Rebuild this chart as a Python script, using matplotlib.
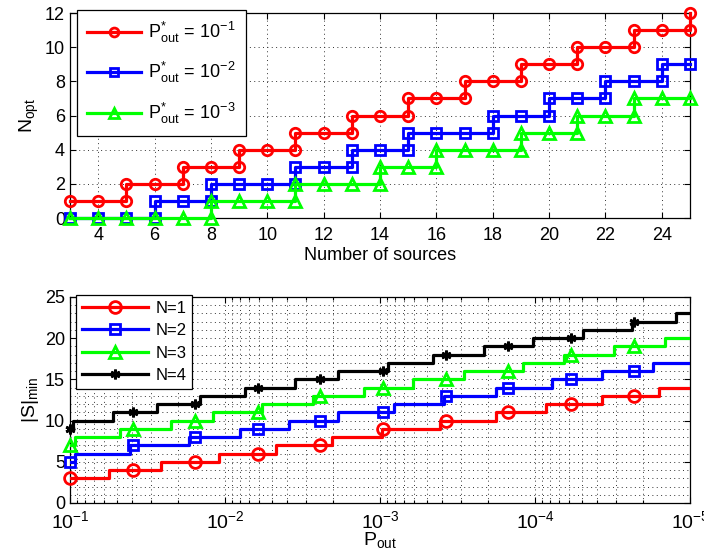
import numpy as np
import matplotlib
matplotlib.use("Agg")
import matplotlib.pyplot as plt
from matplotlib.lines import Line2D
from matplotlib.ticker import MultipleLocator, LogLocator, NullFormatter

plt.rcParams['font.family'] = ['Liberation Sans', 'DejaVu Sans']
plt.rcParams['mathtext.fontset'] = 'custom'
plt.rcParams['mathtext.rm'] = 'Liberation Sans'
plt.rcParams['mathtext.it'] = 'Liberation Sans:italic'
plt.rcParams['mathtext.bf'] = 'Liberation Sans:bold'

# ── top panel data: optimal N vs number of sources ──────────────────────────
n_sources = list(range(3, 26))
nopt_p1 = [1, 1, 2, 2, 3, 3, 4, 4, 5, 5, 6, 6, 7, 7, 8, 8, 9, 9, 10, 10, 11, 11, 12]
nopt_p2 = [0, 0, 0, 1, 1, 2, 2, 2, 3, 3, 4, 4, 5, 5, 5, 6, 6, 7, 7, 8, 8, 9, 9]
nopt_p3 = [0, 0, 0, 0, 0, 1, 1, 1, 2, 2, 2, 3, 3, 4, 4, 4, 5, 5, 6, 6, 7, 7, 7]
top_labels = [r'$\mathrm{P}^{*}_{\mathrm{out}}\,=\,10^{-1}$',
              r'$\mathrm{P}^{*}_{\mathrm{out}}\,=\,10^{-2}$',
              r'$\mathrm{P}^{*}_{\mathrm{out}}\,=\,10^{-3}$']

# ── bottom panel data: |S|min vs P_out (log10 of step positions) ────────────
s1_steps = [-1.25, -1.59, -1.96, -2.33, -2.69, -3.01, -3.39, -3.75, -4.07, -4.43, -4.80]
s1_levels = [3, 4, 5, 6, 7, 8, 9, 10, 11, 12, 13, 14]
s2_steps = [-1.03, -1.39, -1.77, -2.10, -2.41, -2.73, -3.09, -3.415, -3.75, -4.11, -4.43, -4.76]
s2_levels = [5, 6, 7, 8, 9, 10, 11, 12, 13, 14, 15, 16, 17]
s3_steps = [-1.03, -1.32, -1.65, -1.92, -2.24, -2.57, -2.90, -3.21, -3.54, -3.92, -4.19, -4.51, -4.84]
s3_levels = [7, 8, 9, 10, 11, 12, 13, 14, 15, 16, 17, 18, 19, 20]
s4_steps = [-1.02, -1.28, -1.56, -1.84, -2.13, -2.45, -2.73, -3.05, -3.34, -3.67, -3.99, -4.31, -4.625, -4.91]
s4_levels = [9, 10, 11, 12, 13, 14, 15, 16, 17, 18, 19, 20, 21, 22, 23]

mk_exp = [-1.0, -1.404, -1.808, -2.212, -2.616, -3.02, -3.424, -3.828, -4.232, -4.636]
s1_mk = [3, 4, 5, 6, 7, 9, 10, 11, 12, 13]
s2_mk = [5, 7, 8, 9, 10, 11, 13, 14, 15, 16]
s3_mk = [7, 9, 10, 11, 13, 14, 15, 16, 18, 19]
s4_mk = [9, 11, 12, 14, 15, 16, 18, 19, 20, 22]
bot_labels = ['N=1', 'N=2', 'N=3', 'N=4']

P_MAX, P_MIN = 1e-1, 1e-5

RED, BLUE, GREEN, BLACK = '#FF0000', '#0000FF', '#00FF00', '#000000'
FS = 13
LW = 2.3
GRID = dict(linestyle=(0, (1, 3.5)), color='#333333', linewidth=0.7)


def stair_vertices(x, y):
    xs, ys = [x[0]], [y[0]]
    for i in range(1, len(x)):
        if y[i] != y[i - 1]:
            xs.append(x[i])
            ys.append(y[i - 1])
        xs.append(x[i])
        ys.append(y[i])
    return xs, ys


def style_axes(ax):
    ax.tick_params(which='both', direction='in', top=True, right=True,
                   labelsize=FS, width=0.8)
    ax.tick_params(which='major', length=4)
    ax.tick_params(which='minor', length=2)
    for s in ax.spines.values():
        s.set_linewidth(0.9)


fig = plt.figure(figsize=(7.04, 5.59), dpi=100)
ax1 = fig.add_axes([0.0994, 0.610, 0.8807, 0.3667])
ax2 = fig.add_axes([0.0994, 0.1002, 0.8807, 0.3685])

# ── top panel ───────────────────────────────────────────────────────────────
top_series = [(nopt_p1, RED, 'o', 7.5), (nopt_p2, BLUE, 's', 6.5), (nopt_p3, GREEN, '^', 8.5)]
for (vals, col, mk, ms), lab in zip(top_series, top_labels):
    xs, ys = stair_vertices(n_sources, vals)
    ax1.plot(xs, ys, color=col, lw=LW, marker=mk, ms=ms, mfc='none',
             mec=col, mew=2.0, label=lab, clip_on=False, zorder=3)

ax1.set_xlim(3, 25)
ax1.set_ylim(0, 12)
ax1.set_xticks(range(4, 25, 2))
ax1.yaxis.set_major_locator(MultipleLocator(2))
ax1.grid(True, which='major', **GRID)
style_axes(ax1)
ax1.tick_params(axis='x', which='major', pad=6.5)
ax1.set_xlabel('Number of sources', fontsize=FS, labelpad=2)
ax1.set_ylabel(r'$\mathrm{N}_{\mathrm{opt}}$', fontsize=14, labelpad=3)
leg1 = ax1.legend(loc='upper left', bbox_to_anchor=(0.011, 1.015), borderaxespad=0,
                  fontsize=13, handlelength=3.0, fancybox=False, framealpha=1,
                  edgecolor='black', borderpad=0.55, labelspacing=0.85, handletextpad=0.4,
                  markerscale=0.85)
leg1.get_frame().set_linewidth(0.9)

# ── bottom panel ────────────────────────────────────────────────────────────
bot_series = [(s1_steps, s1_levels, s1_mk, RED, 'o', 8.5),
              (s2_steps, s2_levels, s2_mk, BLUE, 's', 7.5),
              (s3_steps, s3_levels, s3_mk, GREEN, '^', 9.0),
              (s4_steps, s4_levels, s4_mk, BLACK, (6, 2, 0), 7.0)]
handles = []
mk_p = 10.0 ** np.array(mk_exp)
for (steps, levels, mvals, col, mk, ms), lab in zip(bot_series, bot_labels):
    xe = [P_MAX] + list(10.0 ** np.array(steps)) + [P_MIN]
    ye = list(levels) + [levels[-1]]
    ax2.step(xe, ye, where='post', color=col, lw=LW, zorder=3)
    ax2.plot(mk_p, mvals, linestyle='none', marker=mk, ms=ms, mfc='none',
             mec=col, mew=2.0, zorder=4, clip_on=False)
    handles.append(Line2D([], [], color=col, lw=LW, marker=mk, ms=ms,
                          mfc='none', mec=col, mew=2.0, label=lab))

ax2.set_xscale('log')
ax2.set_xlim(P_MAX, P_MIN)
ax2.set_ylim(0, 25)
ax2.xaxis.set_major_locator(LogLocator(base=10, numticks=10))
ax2.xaxis.set_minor_locator(LogLocator(base=10, subs=np.arange(2, 10), numticks=10))
ax2.xaxis.set_minor_formatter(NullFormatter())
ax2.yaxis.set_major_locator(MultipleLocator(5))
ax2.yaxis.set_minor_locator(MultipleLocator(1))
ax2.grid(True, which='both', **GRID)
style_axes(ax2)
ax2.tick_params(axis='y', which='minor', length=0)
ax2.tick_params(axis='x', which='major', labelsize=14, pad=5)
ax2.set_xlabel(r'$\mathrm{P}_{\mathrm{out}}$', fontsize=14, labelpad=-1)
ax2.set_ylabel(r'$|\mathrm{S}|_{\mathrm{min}}$', fontsize=14, labelpad=3)
leg2 = ax2.legend(handles=handles, loc='upper left', bbox_to_anchor=(0.0097, 1.01),
                  borderaxespad=0, fontsize=12, handlelength=4.0, fancybox=False,
                  framealpha=1, edgecolor='black', borderpad=0.35, labelspacing=0.45,
                  handletextpad=0.4, numpoints=1)
leg2.get_frame().set_linewidth(0.9)

fig.savefig('out.png', dpi=100, facecolor='white')
